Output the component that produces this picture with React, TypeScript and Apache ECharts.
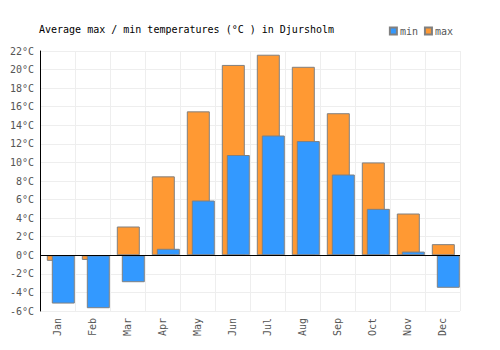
import React, { useEffect, useRef } from "react";
import * as echarts from "echarts";

const months = ["Jan", "Feb", "Mar", "Apr", "May", "Jun", "Jul", "Aug", "Sep", "Oct", "Nov", "Dec"];
const maxTemps = [-0.6, -0.5, 3.1, 8.5, 15.5, 20.5, 21.6, 20.3, 15.3, 10.0, 4.5, 1.2];
const minTemps = [-5.2, -5.7, -2.9, 0.7, 5.9, 10.8, 12.9, 12.3, 8.7, 5.0, 0.4, -3.5];
const spacer = months.map(() => null);

const FONT = "DejaVu Sans Mono";

export default function App() {
  const ref = useRef<HTMLDivElement>(null);
  useEffect(() => {
    if (!ref.current) return;
    document.body.style.margin = "0";
    const chart = echarts.init(ref.current, undefined, { renderer: "svg" });
    chart.setOption({
      animation: false,
      title: {
        text: "Average max / min temperatures (°C ) in Djursholm",
        left: 34,
        top: 19,
        textStyle: { fontFamily: FONT, fontSize: 10, fontWeight: "normal", color: "#000" },
      },
      legend: {
        data: ["min", "max"],
        right: 42,
        top: 21,
        itemWidth: 7,
        itemHeight: 7,
        itemGap: 6,
        icon: "rect",
        textStyle: { fontFamily: FONT, fontSize: 10, color: "#555", padding: [0, 0, 0, -2] },
      },
      grid: { left: 40, right: 40, top: 51, bottom: 39 },
      xAxis: {
        type: "category",
        data: months,
        axisLine: { show: false },
        axisTick: { show: false },
        axisLabel: { rotate: 90, color: "#555", fontFamily: FONT, fontSize: 10, margin: 7, padding: [0, 0, -4, 0] },
        splitLine: { show: true, lineStyle: { color: "#eeeeee", width: 1 } },
      },
      yAxis: {
        type: "value",
        min: -6,
        max: 22,
        interval: 2,
        axisLine: { show: true, lineStyle: { color: "#000", width: 1 } },
        axisTick: { show: false },
        axisLabel: { formatter: "{value}°C", color: "#555", fontFamily: FONT, fontSize: 10, margin: 6 },
        splitLine: { show: true, lineStyle: { color: "#eeeeee", width: 1 } },
      },
      series: [
        {
          name: "max",
          type: "bar",
          data: maxTemps,
          barWidth: 23,
          itemStyle: { color: "#ff9933", borderColor: "#808080", borderWidth: 1 },
        },
        {
          name: "min",
          type: "bar",
          data: minTemps,
          barWidth: 23,
          itemStyle: { color: "#3399ff", borderColor: "#808080", borderWidth: 1 },
          markLine: {
            silent: true,
            symbol: "none",
            label: { show: false },
            lineStyle: { color: "#000", type: "solid", width: 1 },
            data: [{ yAxis: 0 }],
          },
        },
        {
          name: "spacer",
          type: "bar",
          data: spacer,
          barWidth: 11.4,
          barGap: "-78.26%",
          silent: true,
          itemStyle: { opacity: 0 },
        },
      ],
    });
    return () => chart.dispose();
  }, []);
  return <div ref={ref} style={{ width: 500, height: 350 }} />;
}
